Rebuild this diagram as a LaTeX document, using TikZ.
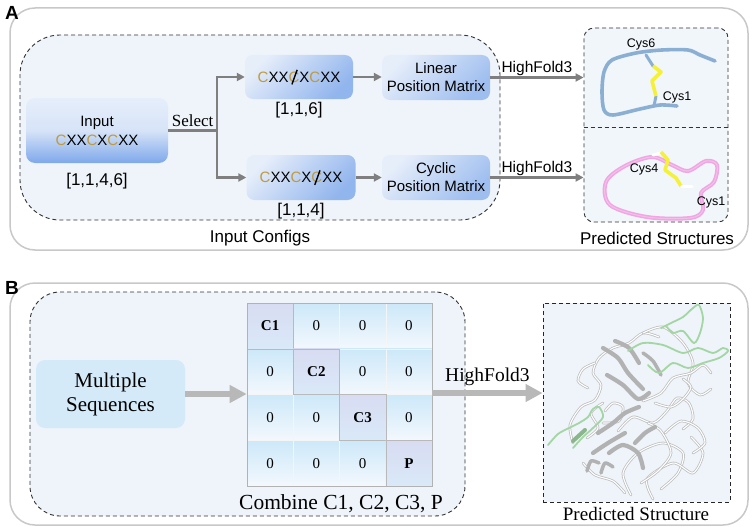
\documentclass[tikz,border=0pt]{standalone}
\usepackage{fontspec}
\setmainfont{Liberation Sans}
\newfontfamily\tnr{Liberation Serif}
\usetikzlibrary{arrows.meta}
\definecolor{cgold}{HTML}{C09A3C}
\definecolor{panelline}{HTML}{C8C8C8}
\definecolor{innerfill}{HTML}{EEF4FA}
\definecolor{boxlight}{HTML}{E6EEFA}
\definecolor{boxblue}{HTML}{7EA8EA}
\definecolor{arrowgray}{HTML}{7F7F7F}
\definecolor{bigarrow}{HTML}{B8B8B8}
\definecolor{seqfill}{HTML}{D5EAF8}
\definecolor{celltop}{HTML}{CDE8F9}
\definecolor{cellbot}{HTML}{F3F8FD}
\definecolor{diagtop}{HTML}{D8DCF2}
\definecolor{diagbot}{HTML}{D9E9F8}
\definecolor{tubeblue}{HTML}{8BAFD3}
\definecolor{tubepink}{HTML}{EFA6E2}
\definecolor{ssyellow}{HTML}{F5F03A}
\definecolor{protgray}{HTML}{B2B2B2}
\definecolor{protedge}{HTML}{BDBDBD}
\definecolor{protgreen}{HTML}{A3D6A3}
\newcommand{\gC}{\textcolor{cgold}{C}}
\newcommand{\slC}{\textcolor{cgold}{C}\tikz[overlay,baseline=0pt]\draw[black,line width=1.4pt] (-0.5em,-0.15em) -- (-0.15em,0.82em);}
\tikzset{
  panel/.style={draw=panelline,line width=1.5pt,fill=white,rounded corners=25pt},
  dashbox/.style={draw=black!80,dash pattern=on 4pt off 3pt,line width=0.9pt,fill=innerfill},
  inbox/.style={rounded corners=9pt,top color=boxlight,bottom color=boxblue,middle color=boxlight!85!boxblue,align=center,font=\fontsize{15}{19}\selectfont,inner sep=0pt},
  seqbox/.style={rounded corners=8pt,top color=boxlight,bottom color=boxblue!85,shading angle=45,align=center,font=\fontsize{15}{18}\selectfont,inner sep=0pt},
  posbox/.style={rounded corners=8pt,top color=boxlight,bottom color=boxblue!75,shading angle=45,align=center,font=\fontsize{15}{18}\selectfont,inner sep=0pt},
  lbl/.style={font=\fontsize{17}{19}\selectfont,inner sep=0pt},
  cys/.style={font=\fontsize{12.5}{14}\selectfont,inner sep=0pt},
  arr/.style={draw=arrowgray,line width=2.3pt,-{Triangle[length=8pt,width=8pt]}},
  ln/.style={draw=arrowgray,line width=2.3pt},
  bigarr/.style={draw=bigarrow,line width=6pt,-{Triangle[length=17pt,width=17pt]}},
  cell/.style={minimum width=46.25pt,minimum height=45.75pt,inner sep=0pt,draw=white!92!gray,line width=0.4pt,top color=celltop,bottom color=cellbot,font=\tnr\fontsize{15}{17}\selectfont},
  dcell/.style={cell,draw=gray!55,top color=diagtop,bottom color=diagbot,font=\tnr\bfseries\fontsize{15}{17}\selectfont},
  tube/.style={line width=3.6pt,line cap=round,line join=round},
  ribbon/.style={draw=protgray,line width=4.2pt,line cap=round,line join=round},
  coil/.style={draw=protedge,line width=2.6pt,line cap=round,line join=round,
    postaction={draw=white,line width=1.1pt}},
  gcoil/.style={draw=protgreen,line width=1.8pt,line cap=round,line join=round}
}
\begin{document}
\begin{tikzpicture}[x=1pt,y=-1pt]
\useasboundingbox (0,0) rectangle (755,527);
% ---------------- Panel A ----------------
\node[panel,minimum width=738pt,minimum height=242pt] (pA) at (379,129) {};
\node[font=\bfseries\fontsize{19}{20}\selectfont,inner sep=0pt] (labA) at (12,13) {A};
\node[dashbox,rounded corners=40pt,minimum width=480pt,minimum height=185pt] (cfg) at (260,127.5) {};
\node[dashbox,rounded corners=10pt,minimum width=144pt,minimum height=194pt,fill=innerfill!80!white] (predA) at (656,125) {};
\draw[black!80,dash pattern=on 4pt off 3pt,line width=0.9pt] (predA.west |- 0,127) -- (predA.east |- 0,127);

\node[inbox,minimum width=142pt,minimum height=65pt] (input) at (97,130.5) {Input\\\gC XX\gC X\gC XX};
\node[lbl] (l1) at (97,181) {[1,1,4,6]};
\node[seqbox,minimum width=108pt,minimum height=44pt] (seq1) at (299,77) {\gC XX\slC X\gC XX};
\node[seqbox,minimum width=109pt,minimum height=45pt] (seq2) at (301,177.5) {\gC XX\gC X\slC XX};
\node[lbl] (l2) at (299,110) {[1,1,6]};
\node[lbl] (l3) at (301,211) {[1,1,4]};
\node[posbox,minimum width=108pt,minimum height=45pt] (lin) at (436,77.5) {Linear\\Position Matrix};
\node[posbox,minimum width=108pt,minimum height=45pt] (cyc) at (436,177.5) {Cyclic\\Position Matrix};

\coordinate (sel) at (217,130.5);
\draw[ln] (input.east) -- node[above=-1pt,font=\tnr\fontsize{17}{19}\selectfont] {Select} (sel);
\draw[arr] (sel) |- (seq1.west);
\draw[arr] (sel) |- (seq2.west);
\draw[arr] (seq1.east) -- (seq1.east -| lin.west);
\draw[arr] (seq2.east) -- (seq2.east -| cyc.west);
\draw[arr] (lin.east) -- node[above=1pt,font=\fontsize{15.5}{17}\selectfont,inner sep=0pt] {HighFold3} (lin.east -| predA.west);
\draw[arr] (cyc.east) -- node[above=1pt,font=\fontsize{15.5}{17}\selectfont,inner sep=0pt] {HighFold3} (cyc.east -| predA.west);

\node[lbl] (cfgl) at (260,238) {Input Configs};
\node[lbl] (predl) at (657,238) {Predicted Structures};

% blue linear structure
\draw[tube,tubeblue] plot[smooth,tension=0.5] coordinates {(715,61) (700,55) (688,50) (662,50) (636,53) (612,60) (604,72) (602,92) (604,110) (613,115) (640,109) (660,105) (677,106)};
\draw[tube,tubeblue,line width=3pt] (646,55) -- (653,66);
\draw[tube,tubeblue,line width=3pt] (654,106) -- (656,96);
\draw[line width=3.6pt,ssyellow,line join=round] (653,66) -- (661,72) -- (652,81) -- (656,96);
\node[cys] (cys6) at (641,44) {Cys6};
\node[cys] (cys1a) at (677,97) {Cys1};

% pink cyclic structure
\draw[tube,tubepink,line width=4pt] plot[smooth cycle,tension=0.55] coordinates {(652,157) (625,166) (606,182) (610,205) (647,217) (690,218) (703,210) (701,193) (714,182) (717,165) (706,161) (688,171) (672,165)};
\draw[line width=1pt,white,opacity=0.3] plot[smooth cycle,tension=0.55] coordinates {(652,157) (625,166) (606,182) (610,205) (647,217) (690,218) (703,210) (701,193) (714,182) (717,165) (706,161) (688,171) (672,165)};
\draw[tube,white,line width=3pt] (653,155) -- (661,153);
\draw[line width=3.6pt,ssyellow,line join=round] (661,152) -- (668,160) -- (665,170) -- (676,178) -- (681,186);
\draw[tube,white,line width=3pt] (682,186) -- (692,186);
\node[cys] (cys4) at (644,169) {Cys4};
\node[cys] (cys1b) at (711,202) {Cys1};

% ---------------- Panel B ----------------
\node[panel,minimum width=738pt,minimum height=242pt] (pB) at (379,404) {};
\node[font=\bfseries\fontsize{19}{20}\selectfont,inner sep=0pt] (labB) at (12,288) {B};
\node[dashbox,rounded corners=30pt,minimum width=435pt,minimum height=224pt] (comb) at (247.5,404) {};
\node[rounded corners=9pt,fill=seqfill,minimum width=149pt,minimum height=68pt,align=center,font=\tnr\fontsize{21}{24}\selectfont,inner sep=0pt] (ms) at (110.5,394) {Multiple\\Sequences};

\foreach \i in {1,...,4}{
  \foreach \j in {1,...,4}{
    \pgfmathsetmacro{\cx}{247+(\j-0.5)*46.25}
    \pgfmathsetmacro{\cy}{303+(\i-0.5)*45.75}
    \ifnum\i=\j\relax
    \else
      \node[cell] (m-\i-\j) at (\cx,\cy) {0};
    \fi
  }
}
\node[dcell] (m-1-1) at (270.125,325.875) {C1};
\node[dcell] (m-2-2) at (316.375,371.625) {C2};
\node[dcell] (m-3-3) at (362.625,417.375) {C3};
\node[dcell] (m-4-4) at (408.875,463.125) {P};
\node[draw=gray!60,line width=0.6pt,minimum width=185pt,minimum height=183pt,inner sep=0pt] (mat) at (339.5,394.5) {};
\node[font=\tnr\fontsize{21.5}{23}\selectfont,inner sep=0pt] (combl) at (341,504) {Combine C1, C2, C3, P};

\node[draw=black!85,dash pattern=on 4pt off 3pt,line width=0.9pt,fill=innerfill,minimum width=187pt,minimum height=199pt,inner sep=0pt] (predB) at (636.5,402.5) {};
\node[font=\tnr\fontsize{19}{21}\selectfont,inner sep=0pt] (predBl) at (636,514) {Predicted Structure};

\draw[bigarr] (ms.east) -- (ms.east -| mat.west);
\draw[bigarr] (mat.east |- 0,393) -- node[above=4pt,font=\tnr\fontsize{19.5}{21}\selectfont,inner sep=0pt,text=black] {HighFold3} (predB.west |- 0,393);

% protein cartoon
\begin{scope}[shift={(543,303)}]
  \draw[coil] plot[smooth] coordinates {(30,140) (27,122) (38,104) (52,97) (58,82) (50,70) (56,55) (70,45) (86,40) (100,30) (116,34)};
  \draw[coil] plot[smooth] coordinates {(75,128) (90,114) (110,120) (124,108) (134,95) (146,100) (150,116) (140,126)};
  \draw[coil] plot[smooth] coordinates {(88,192) (80,170) (95,150) (120,140) (140,150) (135,170) (118,186)};
  \draw[coil] plot[smooth] coordinates {(110,196) (104,176) (130,160) (150,170) (160,150) (148,134)};
  \draw[coil] plot[smooth] coordinates {(100,30) (120,24) (140,40) (150,60) (145,80) (157,92) (168,86)};
  \draw[coil] plot[smooth] coordinates {(40,160) (52,172) (70,178) (82,190)};
  \draw[coil] plot[smooth] coordinates {(100,98) (118,90) (130,75) (148,70) (160,62) (168,70)};
  \draw[coil] plot[smooth] coordinates {(62,108) (70,100) (80,104) (76,118) (60,120)};
  \draw[coil] plot[smooth] coordinates {(122,130) (138,118) (155,125) (162,140) (150,150)};
  \draw[coil] plot[smooth] coordinates {(45,85) (35,78) (40,66) (52,60)};
  \draw[coil] plot[smooth] coordinates {(98,180) (115,168) (128,150) (118,128) (105,120)};
  \draw[coil] plot[smooth] coordinates {(60,100) (48,110) (55,125) (44,135)};
  \draw[coil] plot[smooth] coordinates {(112,100) (128,104) (140,96) (148,84) (140,76)};
  \draw[ribbon] plot[smooth] coordinates {(60,45) (75,55) (85,70) (100,86)};
  \draw[ribbon] plot[smooth] coordinates {(72,38) (86,45) (96,60)};
  \draw[ribbon] plot[smooth] coordinates {(64,72) (80,82) (95,96) (106,90)};
  \draw[ribbon] plot[smooth] coordinates {(55,130) (70,120) (82,110) (96,104)};
  \draw[ribbon] plot[smooth] coordinates {(50,150) (65,140) (82,130)};
  \draw[ribbon] plot[smooth] coordinates {(92,140) (102,130) (112,124)};
  \draw[ribbon] plot[smooth] coordinates {(66,150) (80,142) (95,150) (100,165)};
  \draw[ribbon,line width=3.5pt] plot[smooth] coordinates {(44,168) (48,158) (56,160)};
  \draw[ribbon,line width=3.5pt] plot[smooth] coordinates {(58,170) (62,160) (70,164)};
  \draw[ribbon,line width=3.5pt] plot[smooth] coordinates {(100,50) (110,58) (118,72)};
  \draw[gcoil] plot[smooth] coordinates {(118,25) (128,20) (140,14) (150,5) (156,2) (160,15) (157,30) (151,40) (140,28) (130,30) (124,24)};
  \draw[gcoil] plot[smooth] coordinates {(85,48) (100,40) (120,42) (140,50) (155,45) (170,50) (180,45) (185,48) (176,55) (160,60) (145,65) (130,60) (116,70) (105,62)};
  \draw[gcoil] plot[smooth] coordinates {(5,142) (15,131) (26,125) (36,120) (45,114) (50,106) (56,104) (60,114) (50,125) (40,134) (30,145)};
  \draw[draw=protgreen!85!black,line width=4pt,line cap=round] (30,138) -- (42,127);
\end{scope}
\end{tikzpicture}
\end{document}
